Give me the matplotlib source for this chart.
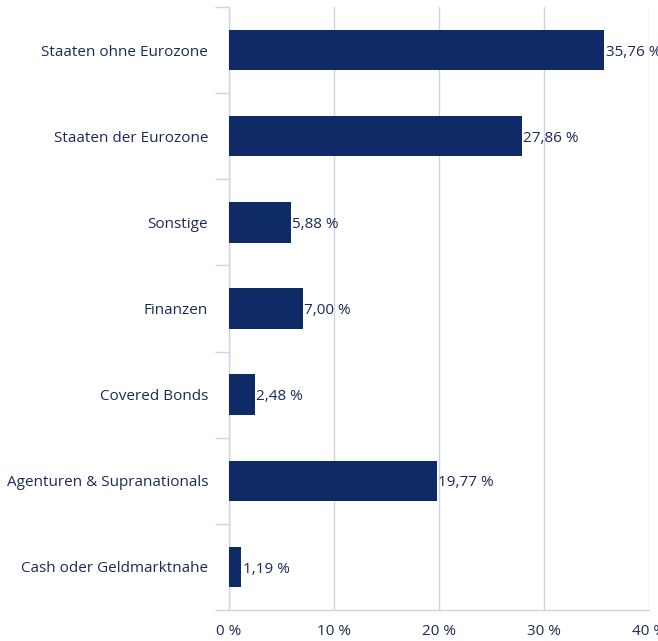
import matplotlib.pyplot as plt
import numpy as np

categories = ['Staaten ohne Eurozone', 'Staaten der Eurozone', 'Sonstige', 'Finanzen',
              'Covered Bonds', 'Agenturen & Supranationals', 'Cash oder Geldmarktnahe']
values = [35.76, 27.86, 5.88, 7.00, 2.48, 19.77, 1.19]
xticks = [0, 10, 20, 30, 40]

bar_color = '#0f2b65'
line_color = '#c9d5e8'
text_color = '#1b2a58'

plt.rcParams['font.family'] = ['Open Sans', 'DejaVu Sans']

fig = plt.figure(figsize=(6.58, 6.41), dpi=100)
ax = fig.add_axes([229 / 658, 1 - 610 / 641, 420 / 658, 603 / 641])

y = np.arange(len(categories))
ax.barh(y, values, height=0.47, color=bar_color, zorder=3)

for yi, v in zip(y, values):
    ax.annotate(f'{v:.2f} %'.replace('.', ','), (v, yi), xytext=(1, -1.5),
                textcoords='offset points', va='center', ha='left',
                fontsize=11, color=text_color, zorder=4)

ax.set_ylim(len(categories) - 0.5, -0.5)
ax.set_xlim(0, 40)

ax.set_yticks(y)
ax.set_yticklabels(categories)
ax.set_yticks(np.arange(len(categories) + 1) - 0.5, minor=True)
ax.tick_params(axis='y', which='major', length=0, pad=15, labelsize=11, labelcolor=text_color)
ax.tick_params(axis='y', which='minor', length=10, width=1, color=line_color)

ax.set_xticks(xticks)
ax.set_xticklabels([f'{t} %' for t in xticks])
ax.tick_params(axis='x', length=0, pad=10, labelsize=11, labelcolor=text_color)

ax.grid(axis='x', color=line_color, linewidth=1, zorder=0)
for s in ['top', 'right']:
    ax.spines[s].set_visible(False)
for s in ['left', 'bottom']:
    ax.spines[s].set_color(line_color)
    ax.spines[s].set_linewidth(1)

fig.savefig('out.png', dpi=100)
